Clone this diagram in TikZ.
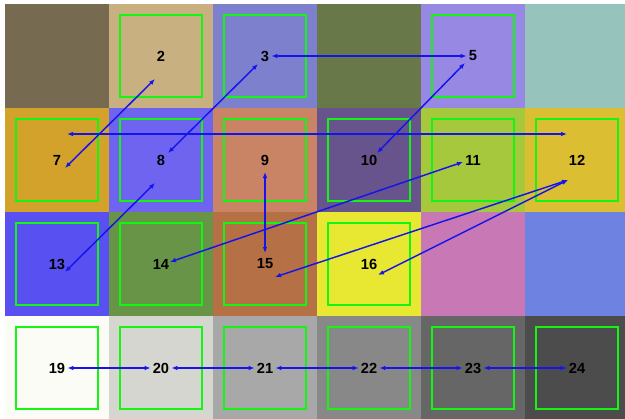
\documentclass[tikz,border=0pt]{standalone}
\usepackage{fontspec}
\setmainfont{Liberation Sans}
\usetikzlibrary{arrows.meta,positioning,calc}

\definecolor{cc1}{RGB}{118,106,80}
\definecolor{cc2}{RGB}{200,176,128}
\definecolor{cc3}{RGB}{125,128,205}
\definecolor{cc4}{RGB}{104,120,72}
\definecolor{cc5}{RGB}{151,136,228}
\definecolor{cc6}{RGB}{150,196,188}
\definecolor{cc7}{RGB}{210,162,42}
\definecolor{cc8}{RGB}{110,100,240}
\definecolor{cc9}{RGB}{200,132,100}
\definecolor{cc10}{RGB}{104,84,140}
\definecolor{cc11}{RGB}{166,200,60}
\definecolor{cc12}{RGB}{220,190,50}
\definecolor{cc13}{RGB}{88,80,240}
\definecolor{cc14}{RGB}{104,148,72}
\definecolor{cc15}{RGB}{182,112,70}
\definecolor{cc16}{RGB}{232,232,50}
\definecolor{cc17}{RGB}{200,120,180}
\definecolor{cc18}{RGB}{110,130,225}
\definecolor{cc19}{RGB}{252,252,246}
\definecolor{cc20}{RGB}{214,214,208}
\definecolor{cc21}{RGB}{168,168,168}
\definecolor{cc22}{RGB}{136,136,136}
\definecolor{cc23}{RGB}{102,102,102}
\definecolor{cc24}{RGB}{76,76,76}
\definecolor{chipgreen}{RGB}{20,245,20}
\definecolor{linkblue}{RGB}{20,20,235}

\begin{document}
\begin{tikzpicture}[
    x=0.75pt, y=-0.75pt,
    node distance=0pt,
    cell/.style={minimum size=78pt, inner sep=0pt, outer sep=0pt},
    chip/.style={draw=chipgreen, line width=1.5pt, minimum size=61.5pt, inner sep=0pt},
    num/.style={font=\bfseries\fontsize{11}{13}\selectfont, inner sep=1.5pt},
    arr/.style={{Latex[length=4.5pt,width=3.5pt]}-{Latex[length=4.5pt,width=3.5pt]}, linkblue, line width=1.1pt}
]
\clip (0,0) rectangle (625,418);
\fill[white] (0,0) rectangle (625,418);

% colour patches
\node[cell, fill=cc1] (c1) at (57,56) {};
\node[cell, fill=cc2, right=of c1] (c2) {};
\node[cell, fill=cc3, right=of c2] (c3) {};
\node[cell, fill=cc4, right=of c3] (c4) {};
\node[cell, fill=cc5, right=of c4] (c5) {};
\node[cell, fill=cc6, right=of c5] (c6) {};
\node[cell, fill=cc7, below=of c1] (c7) {};
\node[cell, fill=cc8, right=of c7] (c8) {};
\node[cell, fill=cc9, right=of c8] (c9) {};
\node[cell, fill=cc10, right=of c9] (c10) {};
\node[cell, fill=cc11, right=of c10] (c11) {};
\node[cell, fill=cc12, right=of c11] (c12) {};
\node[cell, fill=cc13, below=of c7] (c13) {};
\node[cell, fill=cc14, right=of c13] (c14) {};
\node[cell, fill=cc15, right=of c14] (c15) {};
\node[cell, fill=cc16, right=of c15] (c16) {};
\node[cell, fill=cc17, right=of c16] (c17) {};
\node[cell, fill=cc18, right=of c17] (c18) {};
\node[cell, fill=cc19, below=of c13] (c19) {};
\node[cell, fill=cc20, right=of c19] (c20) {};
\node[cell, fill=cc21, right=of c20] (c21) {};
\node[cell, fill=cc22, right=of c21] (c22) {};
\node[cell, fill=cc23, right=of c22] (c23) {};
\node[cell, fill=cc24, right=of c23] (c24) {};

% detected squares
\node[chip] (s2) at (c2) {};
\node[chip] (s3) at (c3) {};
\node[chip] (s5) at (c5) {};
\node[chip] (s7) at (c7) {};
\node[chip] (s8) at (c8) {};
\node[chip] (s9) at (c9) {};
\node[chip] (s10) at (c10) {};
\node[chip] (s11) at (c11) {};
\node[chip] (s12) at (c12) {};
\node[chip] (s13) at (c13) {};
\node[chip] (s14) at (c14) {};
\node[chip] (s15) at (c15) {};
\node[chip] (s16) at (c16) {};
\node[chip] (s19) at (c19) {};
\node[chip] (s20) at (c20) {};
\node[chip] (s21) at (c21) {};
\node[chip] (s22) at (c22) {};
\node[chip] (s23) at (c23) {};
\node[chip] (s24) at (c24) {};

\node[num] (n2) at (c2) {2};
\node[num] (n3) at (c3) {3};
\node[num] (n5) at (c5) {5};
\node[num] (n7) at (c7) {7};
\node[num] (n8) at (c8) {8};
\node[num] (n9) at (c9) {9};
\node[num] (n10) at (c10) {10};
\node[num] (n11) at (c11) {11};
\node[num] (n12) at (c12) {12};
\node[num] (n13) at (c13) {13};
\node[num] (n14) at (c14) {14};
\node[num] (n15) at (c15) {15};
\node[num] (n16) at (c16) {16};
\node[num] (n19) at (c19) {19};
\node[num] (n20) at (c20) {20};
\node[num] (n21) at (c21) {21};
\node[num] (n22) at (c22) {22};
\node[num] (n23) at (c23) {23};
\node[num] (n24) at (c24) {24};

% end points of the links
\coordinate (f2) at ($(c2)+(-6,23)$);
\coordinate (f3) at ($(c3)+(-7,8)$);
\coordinate (f5) at ($(c5)+(-8,7)$);
\coordinate (f7a) at ($(c7)+(8,8)$);
\coordinate (f7b) at ($(c7)+(10,-26)$);
\coordinate (f8a) at ($(c8)+(7,-7)$);
\coordinate (f8b) at ($(c8)+(-6,23)$);
\coordinate (f9) at ($(c9)+(0,12)$);
\coordinate (f10) at ($(c10)+(8,-7)$);
\coordinate (f11) at ($(c11)+(-10,2)$);
\coordinate (f12a) at ($(c12)+(-10,-26)$);
\coordinate (f12b) at ($(c12)+(-9,20)$);
\coordinate (f13) at ($(c13)+(8,8)$);
\coordinate (f14) at ($(c14)+(9,-2)$);
\coordinate (f15a) at ($(c15)+(0,-11)$);
\coordinate (f15b) at ($(c15)+(10,13)$);
\coordinate (f16) at ($(c16)+(9,11)$);

\draw[arr] (n3) -- (n5);
\draw[arr] (f7a) -- (f2);
\draw[arr] (f3) -- (f8a);
\draw[arr] (f7b) -- (f12a);
\draw[arr] (f8b) -- (f13);
\draw[arr] (f9) -- (f15a);
\draw[arr] (f5) -- (f10);
\draw[arr] (f11) -- (f14);
\draw[arr] (f12b) -- (f15b);
\draw[arr] (f12b) -- (f16);
\draw[arr] (n19) -- (n20);
\draw[arr] (n20) -- (n21);
\draw[arr] (n21) -- (n22);
\draw[arr] (n22) -- (n23);
\draw[arr] (n23) -- (n24);
\end{tikzpicture}
\end{document}
